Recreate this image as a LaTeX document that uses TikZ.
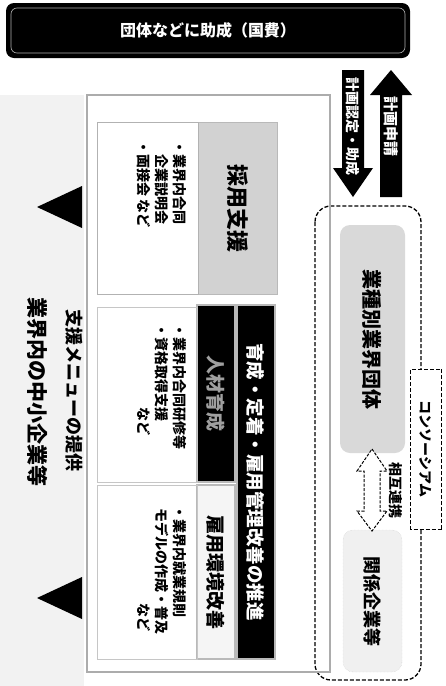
\documentclass[tikz,border=0pt]{standalone}
\usepackage{fontspec}
\setmainfont{Noto Sans CJK JP}
\usetikzlibrary{shapes.geometric}
\begin{document}
\begin{tikzpicture}[x=1pt,y=-1pt,
  fs/.style={font=\fontsize{#1}{#1}\selectfont\bfseries},
  vt/.style={rotate=-90, inner sep=0pt},
  vbox/.style={rotate=-90, inner sep=0pt},
  bul/.style={rotate=-90, inner sep=0pt, anchor=west, font=\fontsize{14}{14}\selectfont\bfseries},
  darkbox/.style={fill=black, draw=gray!55, line width=1.5pt},
  cdash/.style={dash pattern=on 4pt off 2pt, line width=1.3pt}]
\useasboundingbox (0,0) rectangle (445,686);
% left background
\fill[gray!10] (0,95) rectangle (84,686);
% title
\node[fill=black, rounded corners=8pt, minimum width=404pt, minimum height=55pt, inner sep=0pt] (title) at (208,30.5) {};
\node[draw=gray!60, line width=.6pt, rounded corners=6pt, minimum width=394pt, minimum height=45pt, inner sep=0pt] (titlein) at (title) {};
\node[text=white, fs=16, inner sep=0pt] (titletext) at (208,30.5) {団体などに助成（国費）};
% arrows between title and group
\fill[black] (342,70) -- (364,70) -- (364,168) -- (373,168) -- (353,197) -- (333,168) -- (342,168) -- cycle;
\node[vt, text=white, fs=14] (downlbl) at (353,126) {計画認定・助成};
\fill[black] (391,70) -- (412,95) -- (402,95) -- (402,197) -- (380,197) -- (380,95) -- (370,95) -- cycle;
\node[vt, text=white, fs=15] (uplbl) at (391,126) {計画申請};
% consortium
\draw[cdash, rounded corners=16pt] (315,206) rectangle (421,680);
\node[vbox, draw, cdash, line width=1pt, fill=white, minimum width=160pt, minimum height=31pt, fs=14] (cons) at (426,449) {コンソーシアム};
\node[vbox, fill=gray!30, rounded corners=10pt, minimum width=228pt, minimum height=65pt, fs=20] (gyokai) at (372.5,339) {業種別業界団体};
\node[vbox, fill=gray!12, draw=gray!40, densely dotted, rounded corners=10pt, minimum width=142pt, minimum height=59pt] (kigyo) at (372.5,601) {};
\node[vt, fs=18] (kigyotext) at (kigyo) {関係企業等};
\draw[dash pattern=on 3pt off 1.5pt, line width=1pt, fill=white] (372,449) -- (387,471) -- (380,471) -- (380,511) -- (387,511) -- (372,531) -- (357,511) -- (364,511) -- (364,471) -- (357,471) -- cycle;
\node[vt, fs=14] (renkei) at (396,490) {相互連携};
% main panel
\draw[gray!65, line width=1.3pt] (87,95) rectangle (330,672);
% recruitment
\node[vbox, fill=gray!35, draw=gray!55, minimum width=172pt, minimum height=79pt, fs=22] (saiyo) at (237.5,208) {採用支援};
\node[vbox, fill=white, draw=gray!60, minimum width=172pt, minimum height=101pt] (saiyob) at (147.5,208) {};
\node[bul] (s1) at (180,140) {・業界内合同};
\node[bul] (s2) at (162,154) {企業説明会};
\node[bul] (s3) at (144,140) {・面接会 など};
% bar
\node[vbox, darkbox, minimum width=354pt, minimum height=38pt, text=white, fs=18.5] (bar) at (256,482) {育成・定着・雇用管理改善の推進};
% training
\node[vbox, darkbox, minimum width=177pt, minimum height=38pt, text=gray!75, fs=19] (jinzai) at (216,393.5) {人材育成};
\node[vbox, draw=gray!45, minimum width=175pt, minimum height=100pt] (jinzaib) at (147,395) {};
\node[bul] (j1) at (180,323) {・業界内合同研修等};
\node[bul] (j2) at (162,323) {・資格取得支援};
\node[bul] (j3) at (144,407) {など};
% environment
\node[vbox, fill=gray!8, draw=gray!55, line width=1.5pt, minimum width=174pt, minimum height=38pt, fs=19] (koyo) at (216,572) {雇用環境改善};
\node[vbox, draw=gray!45, minimum width=174pt, minimum height=100pt] (koyob) at (147,572) {};
\node[bul] (k1) at (180,505) {・業界内就業規則};
\node[bul] (k2) at (162,508) {モデルの作成・普及};
\node[bul] (k3) at (144,603) {など};
% bottom left
\fill[black] (37,207) -- (82,186) -- (82,228) -- cycle;
\fill[black] (37,598) -- (82,577) -- (82,619) -- cycle;
\node[vt, fs=18] (menu) at (74,390) {支援メニューの提供};
\node[vt, fs=21] (sme) at (38,392) {業界内の中小企業等};
\end{tikzpicture}
\end{document}
